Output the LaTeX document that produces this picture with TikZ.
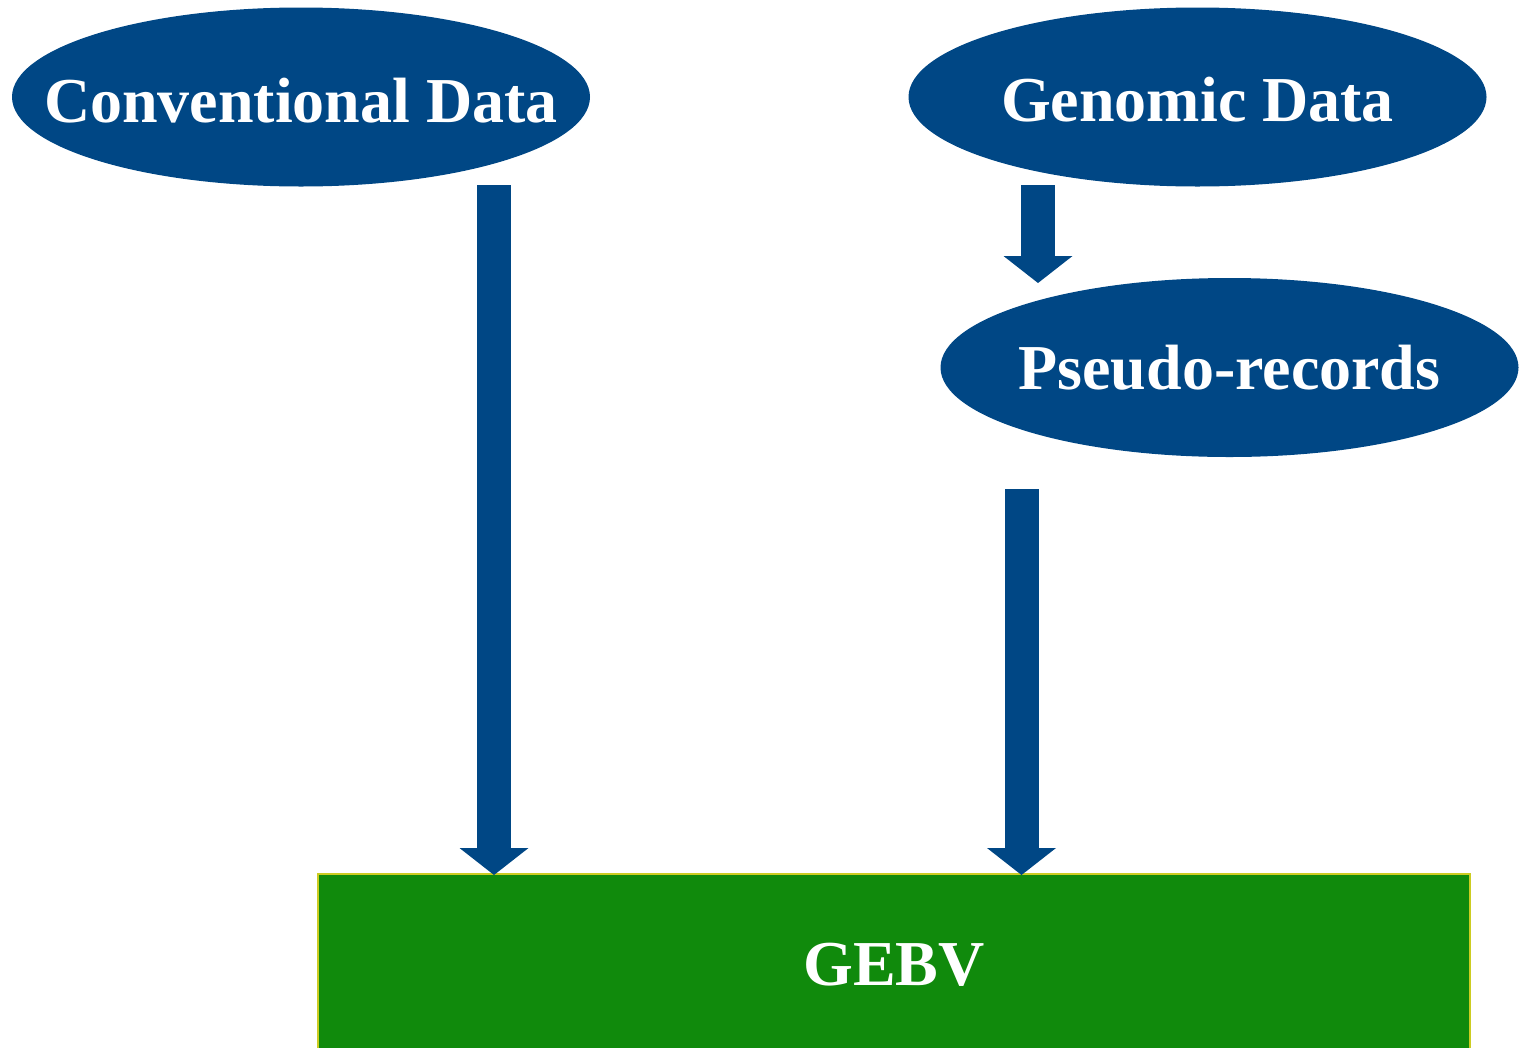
\documentclass[tikz,border=0pt]{standalone}
\usepackage{fontspec}
\setmainfont{Liberation Serif}
\usetikzlibrary{shapes.geometric,arrows.meta}
\definecolor{dblue}{HTML}{004785}
\definecolor{gfill}{HTML}{108A0C}
\definecolor{yborder}{HTML}{CCCC22}
\newcommand{\ovaltext}[2][24]{\raisebox{-#1pt}[0pt][0pt]{\makebox[0pt]{#2}}}
\begin{document}
\begin{tikzpicture}[x=1pt,y=-1pt,
  oval/.style={ellipse,fill=dblue,draw=none,minimum width=578pt,minimum height=179pt,inner sep=0pt,
    text=white,font=\fontsize{64}{70}\selectfont\bfseries},
  bigarrow/.style={draw=dblue,line width=34pt,line cap=butt,
    -{Triangle[width=69pt,length=27pt,fill=dblue,line width=0pt]}},
  resultbox/.style={rectangle,fill=gfill,draw=yborder,line width=2pt,inner sep=0pt,outer sep=0pt,
    text=white,font=\fontsize{64}{70}\selectfont\bfseries}]
\useasboundingbox (0,0) rectangle (1525,1047);
\node[oval] (conv) at (301,97) {\ovaltext[25]{Conventional Data}};
\node[oval] (gen) at (1197.5,97) {\ovaltext[24]{Genomic Data}};
\node[oval] (pseudo) at (1229.5,367.5) {\ovaltext[22]{Pseudo-records}};
\node[resultbox,minimum width=1152pt,minimum height=180pt,anchor=north west] (gebv) at (318,874) {};
\node[text=white,font=\fontsize{64}{70}\selectfont\bfseries] (gebvtxt) at (894,963.5) {\ovaltext[22]{GEBV}};
\coordinate (a1s) at (494,185);
\coordinate (a1e) at (494,875);
\coordinate (a2s) at (1038,185);
\coordinate (a2e) at (1038,283);
\coordinate (a3s) at (1021.5,489);
\coordinate (a3e) at (1021.5,875);
\draw[bigarrow] (a1s) -- (a1e);
\draw[bigarrow] (a2s) -- (a2e);
\draw[bigarrow] (a3s) -- (a3e);
\end{tikzpicture}
\end{document}
